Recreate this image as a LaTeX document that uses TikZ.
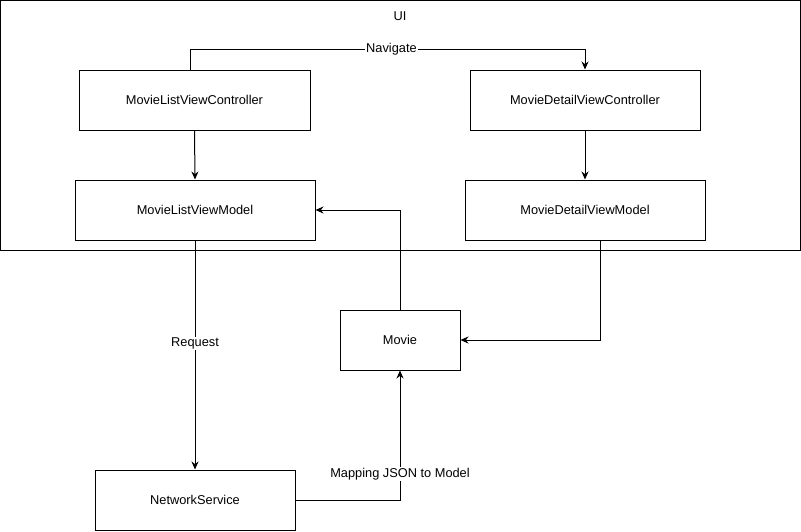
\documentclass[tikz,border=0pt]{standalone}
\usepackage{fontspec}
\setmainfont{Liberation Sans}
\usetikzlibrary{arrows.meta}
\begin{document}
\begin{tikzpicture}[x=1pt,y=-1pt,
	box/.style={draw,line width=1pt,minimum width=#1,minimum height=60pt,inner sep=0pt,font=\fontsize{12.8}{15}\selectfont},
	arr/.style={line width=1pt,-{Stealth[length=8pt,width=7pt]}},
	lbl/.style={fill=white,inner sep=1pt,font=\fontsize{12.8}{15}\selectfont}]
	\useasboundingbox (0,0) rectangle (801,531);
	\draw[line width=1pt] (0.5,0.5) rectangle (800.5,250);
	\node[font=\fontsize{12.8}{15}\selectfont] (ui) at (400,16) {UI};
	\node[box=231pt] (listvc) at (194.5,100) {MovieListViewController};
	\node[box=230pt] (detailvc) at (585,100) {MovieDetailViewController};
	\node[box=240pt] (listvm) at (195,210) {MovieListViewModel};
	\node[box=240pt] (detailvm) at (585,210) {MovieDetailViewModel};
	\node[box=120pt] (movie) at (400,340) {Movie};
	\node[box=200pt] (network) at (195,500) {NetworkService};
	\draw[arr] ([xshift=-4.5pt]listvc.north) -- ++(0,-20) -| node[lbl,pos=0.255] (navigate) {Navigate} (detailvc.north);
	\draw[arr] (listvc.south) -- (listvm.north);
	\draw[arr] (detailvc.south) -- (detailvm.north);
	\draw[arr] (movie.north) |- (listvm.east);
	\draw[arr] ([xshift=15pt]detailvm.south) |- (movie.east);
	\draw[arr] (listvm.south) -- node[lbl,pos=0.45] (request) {Request} (network.north);
	\draw[arr] (network.east) -| node[lbl,pos=0.6] (mapping) {Mapping JSON to Model} (movie.south);
\end{tikzpicture}
\end{document}
